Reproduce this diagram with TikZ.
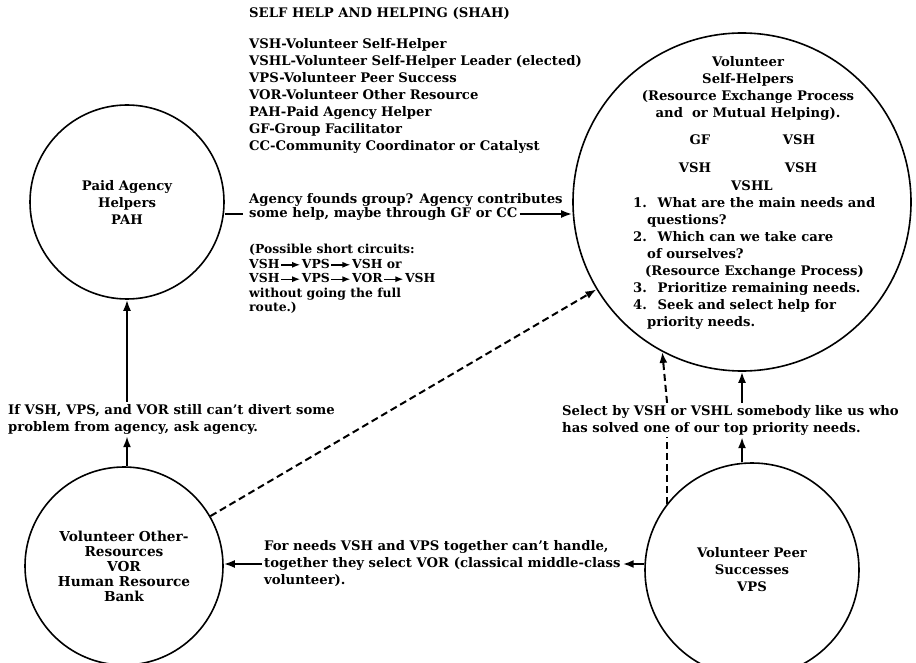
\documentclass[tikz,border=0pt]{standalone}
\usepackage{fontspec}
\setmainfont{DejaVu Serif}
\usepackage{tikz}
\usetikzlibrary{calc,arrows.meta}
\tikzset{
	txt/.style={font=\fontsize{13.2}{17}\selectfont\bfseries,inner sep=2pt},
	ring/.style={draw,circle,line width=1.6pt,txt,align=center},
	head/.style={-{Latex[length=11pt,width=8pt]}},
	arr/.style={line width=2pt,head},
	dsh/.style={line width=2pt,dash pattern=on 7pt off 4pt},
}
\newcommand{\sarr}{\kern1pt\tikz[baseline=-0.55ex]\draw[-{Latex[length=8pt,width=6pt]},line width=1.4pt] (0pt,0pt) -- (19pt,0pt);\kern1pt}

\begin{document}
\begin{tikzpicture}[x=1pt,y=-1pt]
	\useasboundingbox (0,0) rectangle (916,663);
	\node[ring,minimum size=194pt] (pah) at (127,202) {Paid Agency\\Helpers\\PAH};
	\node[ring,minimum size=338pt] (vsh) at (742,202) {};
	\node[ring,minimum size=198pt,font=\fontsize{13.7}{15}\selectfont\bfseries] (vor) at (124,566) {Volunteer Other-\\Resources\\VOR\\Human Resource\\Bank};
	\node[ring,minimum size=214pt] (vps) at (752,570) {Volunteer Peer\\Successes\\VPS};

	\node[txt,anchor=west] (title) at (247,14) {SELF HELP AND HELPING (SHAH)};
	\node[txt,anchor=west,align=left] (legend) at (247,96) {VSH-Volunteer Self-Helper\\VSHL-Volunteer Self-Helper Leader (elected)\\VPS-Volunteer Peer Success\\VOR-Volunteer Other Resource\\PAH-Paid Agency Helper\\GF-Group Facilitator\\CC-Community Coordinator or Catalyst};

	\node[txt,anchor=west] (agency) at (247,200) {Agency founds group? Agency contributes};
	\node[txt,anchor=west] (found) at (247,214) {some help, maybe through GF or CC};
	\node[txt,anchor=west,align=left,font=\fontsize{12.4}{14.4}\selectfont\bfseries] (short) at (247,279) {(Possible short circuits:\\VSH\sarr VPS\sarr VSH or\\VSH\sarr VPS\sarr VOR\sarr VSH\\without going the full\\route.)};

	\node[txt,align=center] (head) at (748,88) {Volunteer\\Self-Helpers\\(Resource Exchange Process\\and~ or Mutual Helping).};
	\node[txt] (gf) at (700,140) {GF};	\node[txt] (vsha) at (799,140) {VSH};
	\node[txt] (vshb) at (695,168) {VSH};	\node[txt] (vshc) at (801,168) {VSH};
	\node[txt] (vshl) at (752,186) {VSHL};
	\node[txt,anchor=west,align=left] (steps) at (631,263) {1.~ What are the main needs and\\\hspace*{14pt}questions?\\2.~ Which can we take care\\\hspace*{14pt}of ourselves?\\\hspace*{12pt}(Resource Exchange Process)\\3.~ Prioritize remaining needs.\\4.~ Seek and select help for\\\hspace*{14pt}priority needs.};

	\node[txt,anchor=west,align=left] (ask) at (6,419) {If VSH, VPS, and VOR still can't divert some\\problem from agency, ask agency.};
	\node[txt,anchor=west,align=left] (sel) at (560,420) {Select by VSH or VSHL somebody like us who\\has solved one of our top priority needs.};
	\node[txt,anchor=west,align=left] (needs) at (262,564) {For needs VSH and VPS together can't handle,\\together they select VOR (classical middle-class\\volunteer).};

	\draw[line width=2pt,shorten >=4pt] (found.west -| pah.east) -- (found.west);
	\draw[arr] (found.east) -- (found.east -| vsh.west);
	\draw[arr] (pah.south |- vor.north) -- (pah.south |- ask.south);
	\draw[arr] (pah.south |- ask.north) -- (pah.south);
	\draw[dsh,head] (vor.30) -- (vsh.211);
	\draw[arr] (vsh.south |- vps.north) -- (vsh.south |- sel.south);
	\draw[arr] (vsh.south |- sel.north) -- (vsh.south);
	\draw[dsh] (vps.142) -- (vps.142 |- sel.south);
	\draw[dsh,head] (vps.142 |- sel.north) -- (vsh.242);
	\draw[arr] (needs.east -| vps.west) -- (needs.east);
	\draw[arr] (needs.west) -- (needs.west -| vor.east);
\end{tikzpicture}
\end{document}
